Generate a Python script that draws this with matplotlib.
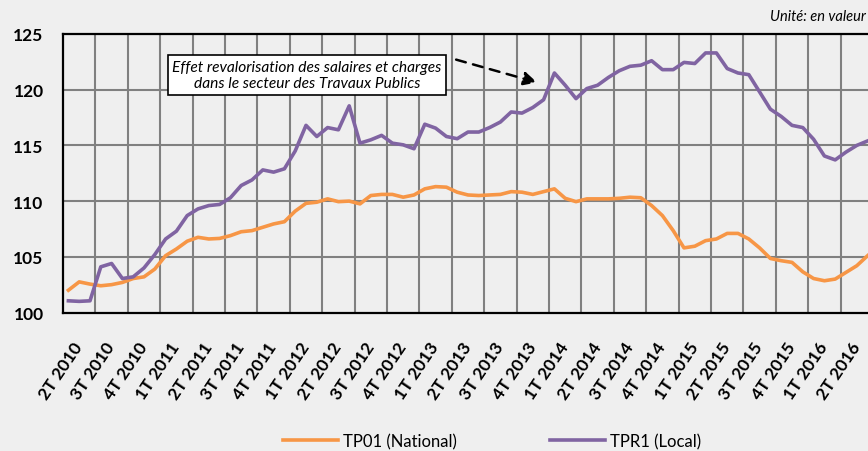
"""Monthly TP01 vs TPR1 index, 2T 2010 - 2T 2016."""

import matplotlib

matplotlib.use("Agg")
import matplotlib.pyplot as plt

QUARTERS = [
    "2T 2010", "3T 2010", "4T 2010",
    "1T 2011", "2T 2011", "3T 2011", "4T 2011",
    "1T 2012", "2T 2012", "3T 2012", "4T 2012",
    "1T 2013", "2T 2013", "3T 2013", "4T 2013",
    "1T 2014", "2T 2014", "3T 2014", "4T 2014",
    "1T 2015", "2T 2015", "3T 2015", "4T 2015",
    "1T 2016", "2T 2016",
]

# one value per month, three per quarter
TP01 = [
    102.0, 102.75, 102.55, 102.4, 102.5, 102.7, 103.05, 103.2, 103.9, 105.1,
    105.7, 106.4, 106.75, 106.6, 106.65, 106.9, 107.25, 107.35, 107.65, 107.95,
    108.15, 109.1, 109.8, 109.9, 110.2, 109.95, 110.0, 109.75, 110.5, 110.6,
    110.6, 110.35, 110.55, 111.1, 111.3, 111.25, 110.8, 110.55, 110.5, 110.55,
    110.6, 110.85, 110.8, 110.6, 110.85, 111.1, 110.25, 109.95, 110.2, 110.2,
    110.2, 110.25, 110.35, 110.3, 109.6, 108.7, 107.35, 105.8, 105.95, 106.45,
    106.6, 107.1, 107.1, 106.6, 105.8, 104.85, 104.65, 104.5, 103.65, 103.05,
    102.85, 103.0, 103.6, 104.2, 105.1,
]
TPR1 = [
    101.05, 101.0, 101.05, 104.1, 104.4, 103.05, 103.2, 104.0, 105.2, 106.6,
    107.3, 108.7, 109.3, 109.6, 109.7, 110.3, 111.4, 111.9, 112.8, 112.6,
    112.9, 114.5, 116.8, 115.8, 116.6, 116.4, 118.55, 115.2, 115.5, 115.9,
    115.2, 115.05, 114.7, 116.9, 116.55, 115.8, 115.6, 116.2, 116.2, 116.6,
    117.1, 118.0, 117.9, 118.4, 119.1, 121.5, 120.4, 119.2, 120.1, 120.4,
    121.1, 121.7, 122.1, 122.2, 122.6, 121.8, 121.8, 122.45, 122.35, 123.3,
    123.3, 121.9, 121.5, 121.35, 119.8, 118.25, 117.6, 116.8, 116.6, 115.55,
    114.05, 113.7, 114.4, 115.0, 115.4,
]
Y_TICKS = [100, 105, 110, 115, 120, 125]

ORANGE = "#F79646"
PURPLE = "#8064A2"
BG = "#EFEFEF"
GRID = "#808080"


def main() -> None:
    plt.rcParams.update({"font.family": ["Lato", "DejaVu Sans"]})

    fig = plt.figure(figsize=(8.68, 4.52), dpi=100, facecolor=BG)
    ax = fig.add_axes([63 / 868, 1 - 313.5 / 452, 810 / 868, 278.5 / 452])
    ax.set_facecolor(BG)

    n_months = len(QUARTERS) * 3
    ax.set_xlim(0, n_months)
    ax.set_ylim(100, 125)

    # grid: quarter boundaries and the inner y ticks
    for k in range(1, len(QUARTERS)):
        ax.plot([3 * k, 3 * k], [100, 125], color=GRID, lw=1.5,
                solid_capstyle="butt", zorder=2)
    for v in Y_TICKS[1:-1]:
        ax.plot([0, n_months], [v, v], color=GRID, lw=1.5,
                solid_capstyle="butt", zorder=2)

    x = [i + 0.5 for i in range(len(TP01))]
    ax.plot(x, TP01, color=ORANGE, lw=2.6, solid_joinstyle="round", label="TP01 (National)", zorder=3)
    ax.plot(x, TPR1, color=PURPLE, lw=2.6, solid_joinstyle="round", label="TPR1 (Local)", zorder=4)

    ax.set_yticks(Y_TICKS)
    ax.set_yticklabels([str(v) for v in Y_TICKS], fontsize=12.5, fontweight="bold")
    ax.set_xticks([3 * k + 1.5 for k in range(len(QUARTERS))])
    ax.set_xticklabels(QUARTERS, rotation=56, ha="right", va="center",
                       rotation_mode="anchor", fontsize=12.5, fontweight="bold")
    ax.tick_params(axis="y", length=0, pad=14)
    ax.tick_params(axis="x", length=0, pad=22)

    for side in ["left", "bottom", "top", "right"]:
        ax.spines[side].set_color("black")
        ax.spines[side].set_linewidth(1.6)
        ax.spines[side].set_zorder(5)

    ax.text(22.6, 121.3,
            "Effet revalorisation des salaires et charges\ndans le secteur des Travaux Publics",
            ha="center", va="center", fontsize=11.2, style="italic", linespacing=1.2,
            bbox=dict(boxstyle="square,pad=0.3", facecolor="white", edgecolor="black", lw=1.2),
            zorder=6)
    ax.annotate("", xy=(43.9, 120.65), xytext=(36.4, 122.7),
                arrowprops=dict(arrowstyle="-|>", color="black", lw=1.8,
                                linestyle=(0, (4, 3)), mutation_scale=20,
                                shrinkA=0, shrinkB=0),
                zorder=6)

    fig.text(866 / 868, 1 - 17 / 452, "Unité: en valeur", ha="right", va="center",
             fontsize=10.5, style="italic")

    handles = ax.get_lines()[-2:]
    fig.legend(handles=handles, loc="center", bbox_to_anchor=(492 / 868, 1 - 442 / 452), ncol=2,
               frameon=False, fontsize=12, handlelength=3.3, handletextpad=0.3,
               columnspacing=5.6)

    fig.savefig("out.png", dpi=100, facecolor=BG)


if __name__ == "__main__":
    main()
